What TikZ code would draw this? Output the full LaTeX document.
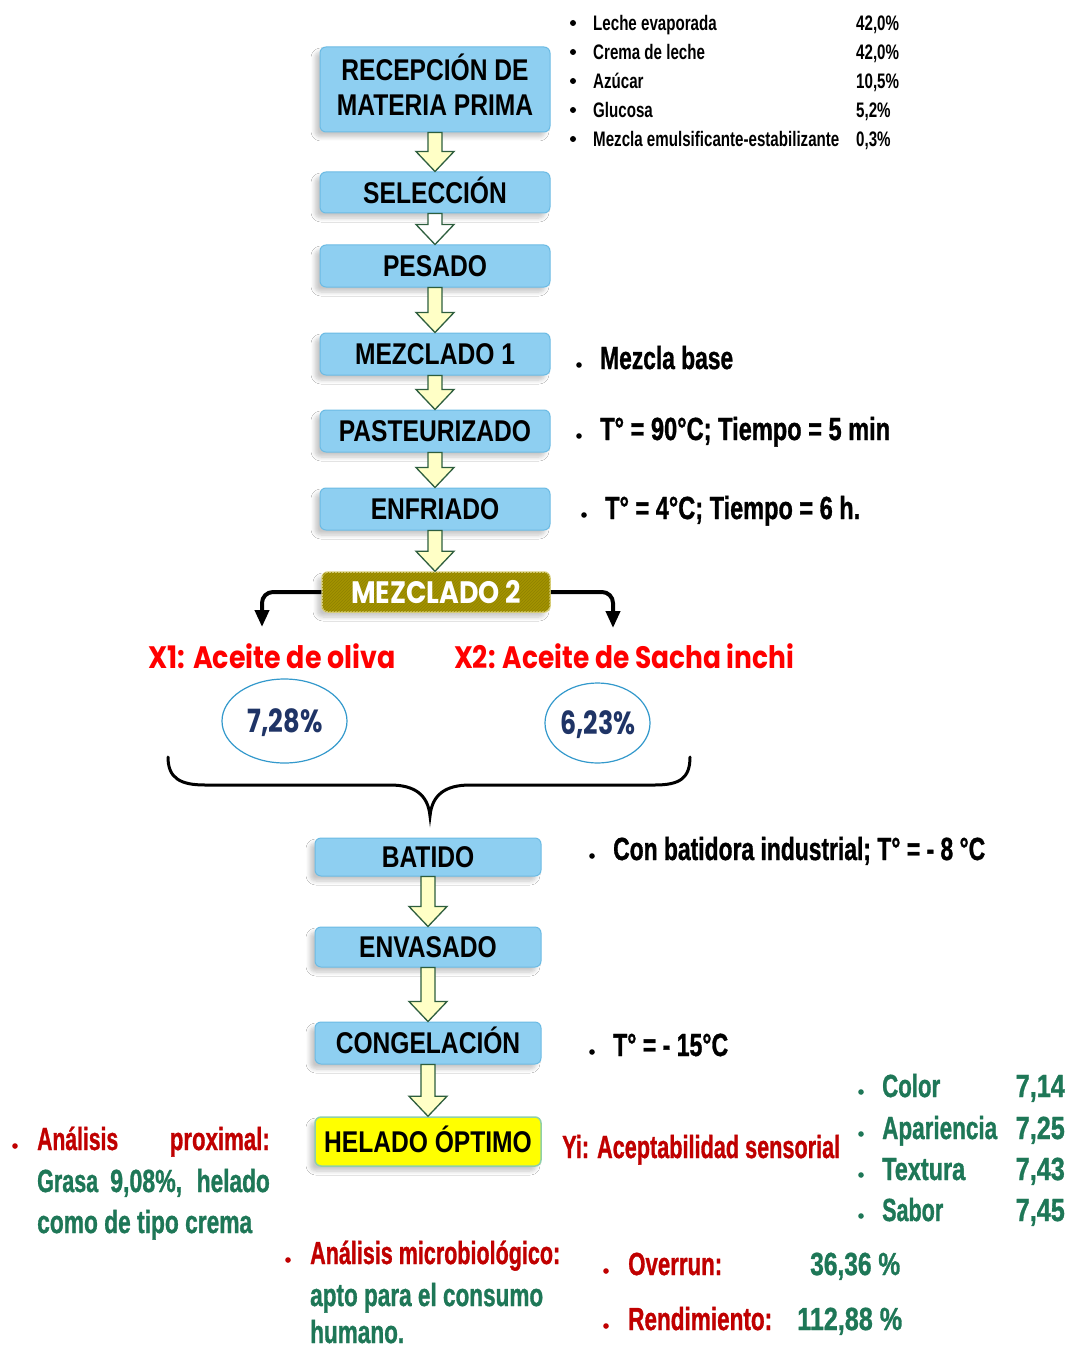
\documentclass[tikz,border=0pt]{standalone}
\usepackage{fontspec}
\usepackage{graphicx}
\setmainfont{Liberation Sans}
\newfontfamily\boxfont{Liberation Sans}[FakeStretch=0.82]
\newfontfamily\condfont{Liberation Sans}[FakeStretch=0.72]
\newfontfamily\heavyfont{Liberation Sans}[FakeBold=1.2]
\newfontfamily\gothfont{Poppins}
\usetikzlibrary{shadows,shadows.blur,arrows.meta,patterns,calc,shapes.geometric}

\definecolor{boxblue}{HTML}{8ECFF1}
\definecolor{boxedge}{HTML}{6CBBE4}
\definecolor{arrowfill}{HTML}{FFFFC6}
\definecolor{arrowedge}{HTML}{2E5E3E}
\definecolor{olivefill}{HTML}{A39300}
\definecolor{oliveedge}{HTML}{D9CF7A}
\definecolor{olivehatch}{HTML}{8F8100}
\definecolor{redtxt}{HTML}{C00000}
\definecolor{greentxt}{HTML}{1E7757}
\definecolor{brightred}{HTML}{FF0000}
\definecolor{navytxt}{HTML}{1F3466}
\definecolor{ellblue}{HTML}{3399CC}
\definecolor{helyellow}{HTML}{FFFF00}
\definecolor{heledge}{HTML}{8FD0A8}

% scale a text horizontally to a given width
\newlength\fitlen
\newcommand\fitw[2]{\sbox0{#2}\setlength\fitlen{\wd0}\scalebox{\fpeval{(#1)/\fitlen}}[1]{\usebox0}}

% hollow block arrow between two stacked boxes
\newcommand\flowarrow[3][arrowfill]{%
  \path[blockarrow, fill=#1] let \p1=(#2.south), \p2=(#3.north) in
    (\x1-7pt,\y1) -- (\x1-7pt,\y2+20pt) -- (\x1-19pt,\y2+20pt) -- (\x1,\y2)
    -- (\x1+19pt,\y2+20pt) -- (\x1+7pt,\y2+20pt) -- (\x1+7pt,\y1) -- cycle;}

\tikzset{
  stepbox/.style={rectangle, rounded corners=6pt, fill=boxblue, draw=boxedge,
    line width=1pt, minimum width=230pt, inner sep=0pt, align=center,
    text height=21.5pt, text depth=0pt,
    font=\boxfont\bfseries\fontsize{30}{35}\selectfont,
    blur shadow={shadow xshift=-5pt, shadow yshift=-5pt, shadow opacity=22,
      shadow blur steps=6, shadow blur radius=4pt}},
  blockarrow/.style={draw=arrowedge, line width=1.3pt, line join=miter},
  conn/.style={line width=4pt, rounded corners=11pt,
    -{Triangle[length=17pt,width=14pt]}},
  txt/.style={anchor=base west, inner sep=0pt, font=\heavyfont\bfseries\fontsize{32}{36}\selectfont},
  txtr/.style={txt, anchor=base east},
  listtxt/.style={anchor=base west, inner sep=0pt, font=\condfont\bfseries\fontsize{21}{24}\selectfont},
  bigdot/.style={radius=2.8pt},
}

\begin{document}
\begin{tikzpicture}[x=1pt,y=-1pt]
\useasboundingbox (0,0) rectangle (1075,1348);
\fill[white] (0,0) rectangle (1075,1348);

% ---------------- process boxes ----------------
\node[stepbox, minimum height=85pt, text height=52.5pt] (recep) at (435,89.5) {RECEPCIÓN DE\\MATERIA PRIMA};
\node[stepbox, minimum height=41pt] (selec) at (435,192.5) {SELECCIÓN};
\node[stepbox, minimum height=42pt] (pesado) at (435,266) {PESADO};
\node[stepbox, minimum height=42pt] (mez1) at (435,354) {MEZCLADO 1};
\node[stepbox, minimum height=42pt] (past) at (435,431) {PASTEURIZADO};
\node[stepbox, minimum height=42pt] (enfr) at (435,509) {ENFRIADO};
\node[stepbox, minimum height=40pt, minimum width=228pt, fill=olivefill, draw=oliveedge,
      line width=1.5pt, text=white,
      postaction={pattern=north east lines, pattern color=olivehatch}] (mez2) at (436,592) {};
\node[inner sep=0pt, text=white, font=\gothfont\bfseries\fontsize{31}{36}\selectfont]
      (mez2t) at (436,592) {\fitw{170pt}{MEZCLADO 2}};
\node[stepbox, minimum height=38pt, minimum width=226pt] (batido) at (428,857) {BATIDO};
\node[stepbox, minimum height=40pt, minimum width=226pt] (envas) at (428,947) {ENVASADO};
\node[stepbox, minimum height=42pt, minimum width=226pt] (congel) at (428,1043) {CONGELACIÓN};
\node[stepbox, minimum height=49pt, minimum width=226pt, fill=helyellow, draw=heledge,
      line width=1.5pt] (helado) at (428,1141.5) {HELADO ÓPTIMO};

% ---------------- block arrows ----------------
\flowarrow{recep}{selec}
\flowarrow[white]{selec}{pesado}
\flowarrow{pesado}{mez1}
\flowarrow{mez1}{past}
\flowarrow{past}{enfr}
\flowarrow{enfr}{mez2}
\flowarrow{batido}{envas}
\flowarrow{envas}{congel}
\flowarrow{congel}{helado}

% ---------------- branches of MEZCLADO 2 ----------------
\coordinate (ltip) at (262,627);
\coordinate (rtip) at (613,628);
\draw[conn] (mez2.west) -| (ltip);
\draw[conn] (mez2.east) -| (rtip);

\node[anchor=base, inner sep=0pt, text=brightred, font=\gothfont\bfseries\fontsize{31}{36}\selectfont]
  (x1) at (272,668) {\fitw{247pt}{X1: Aceite de oliva}};
\node[anchor=base, inner sep=0pt, text=brightred, font=\gothfont\bfseries\fontsize{31}{36}\selectfont]
  (x2) at (624,668) {\fitw{340pt}{X2: Aceite de Sacha inchi}};

\node[ellipse, draw=ellblue, line width=1.2pt, minimum width=125pt, minimum height=84pt]
  (e1) at (284.5,721) {};
\node[ellipse, draw=ellblue, line width=1.2pt, minimum width=105pt, minimum height=80pt]
  (e2) at (597.5,723) {};
\node[anchor=base, inner sep=0pt, text=navytxt, font=\gothfont\bfseries\fontsize{32}{36}\selectfont]
  (v1) at (285,732) {\fitw{75pt}{7,28\%}};
\node[anchor=base, inner sep=0pt, text=navytxt, font=\gothfont\bfseries\fontsize{32}{36}\selectfont]
  (v2) at (598,734) {\fitw{75pt}{6,23\%}};

% ---------------- brace ----------------
\coordinate (btip) at (430,816);
\draw[line width=3pt, line cap=round]
  (168,757) .. controls (168,778) and (180,785) .. (205,785)
  -- (390,785) .. controls (415,785) and (428,795) .. (btip)
  .. controls (432,795) and (445,785) .. (470,785)
  -- (655,785) .. controls (680,785) and (690,778) .. (690,757);

% ---------------- raw materials list ----------------
\foreach \nm/\val/\yy in {Leche evaporada/42{,}0\%/31, Crema de leche/42{,}0\%/60,
    Azúcar/10{,}5\%/89, Glucosa/5{,}2\%/118,
    Mezcla emulsificante-estabilizante/0{,}3\%/147}{
  \fill (573,\yy-8) circle[radius=3pt];
  \node[listtxt] at (593,\yy) {\nm};
  \node[listtxt] at (856,\yy) {\val};
}

% ---------------- process conditions ----------------
\fill (579,365) circle[bigdot];
\node[txt] (c1) at (600,369) {\fitw{133pt}{Mezcla base}};
\fill (579,436) circle[bigdot];
\node[txt] (c2) at (600,440) {\fitw{290pt}{T° = 90°C; Tiempo = 5 min}};
\fill (584,515) circle[bigdot];
\node[txt] (c3) at (605,519) {\fitw{255pt}{T° = 4°C; Tiempo = 6 h.}};
\fill (592,856) circle[bigdot];
\node[txt] (c4) at (613,860) {\fitw{372pt}{Con batidora industrial; T° = - 8 °C}};
\fill (592,1052) circle[bigdot];
\node[txt] (c5) at (613,1056) {\fitw{115pt}{T° = - 15°C}};

% ---------------- results ----------------
\fill[redtxt] (15,1146) circle[bigdot];
\node[txt, text=redtxt] (p1) at (37,1150) {\fitw{81pt}{Análisis}};
\node[txtr, text=redtxt] (p2) at (270,1150) {\fitw{100pt}{proximal:}};
\node[txt, text=greentxt] (p3) at (37,1192) {\fitw{61pt}{Grasa}};
\node[txt, text=greentxt] (p4) at (110,1192) {\fitw{72pt}{9,08\%,}};
\node[txtr, text=greentxt] (p5) at (270,1192) {\fitw{73pt}{helado}};
\node[txt, text=greentxt] (p6) at (37,1233) {\fitw{215pt}{como de tipo crema}};

\node[txt, text=redtxt] (yi) at (562,1158) {\fitw{278pt}{Yi: Aceptabilidad sensorial}};
\foreach \nm/\w/\val/\yy in {Color/58/7{,}14/1097, Apariencia/115/7{,}25/1139,
    Textura/83/7{,}43/1180, Sabor/61/7{,}45/1221}{
  \fill[greentxt] (861,\yy-5) circle[bigdot];
  \node[txt, text=greentxt] at (882,\yy) {\fitw{\w pt}{\nm}};
  \node[txtr, text=greentxt] at (1065,\yy) {\fitw{49pt}{\val}};
}

\fill[redtxt] (288,1260) circle[bigdot];
\node[txt, text=redtxt] (m1) at (310,1264) {\fitw{250pt}{Análisis microbiológico:}};
\node[txt, text=greentxt] (m2) at (310,1306) {\fitw{233pt}{apto para el consumo}};
\node[txt, text=greentxt] (m3) at (310,1343) {\fitw{94pt}{humano.}};

\fill[redtxt] (606,1271) circle[bigdot];
\node[txt, text=redtxt] (o1) at (628,1275) {\fitw{94pt}{Overrun:}};
\node[txt, text=greentxt] (o2) at (810,1275) {\fitw{90pt}{36,36 \%}};
\fill[redtxt] (606,1326) circle[bigdot];
\node[txt, text=redtxt] (r1) at (628,1330) {\fitw{144pt}{Rendimiento:}};
\node[txt, text=greentxt] (r2) at (797,1330) {\fitw{105pt}{112,88 \%}};
\end{tikzpicture}
\end{document}
